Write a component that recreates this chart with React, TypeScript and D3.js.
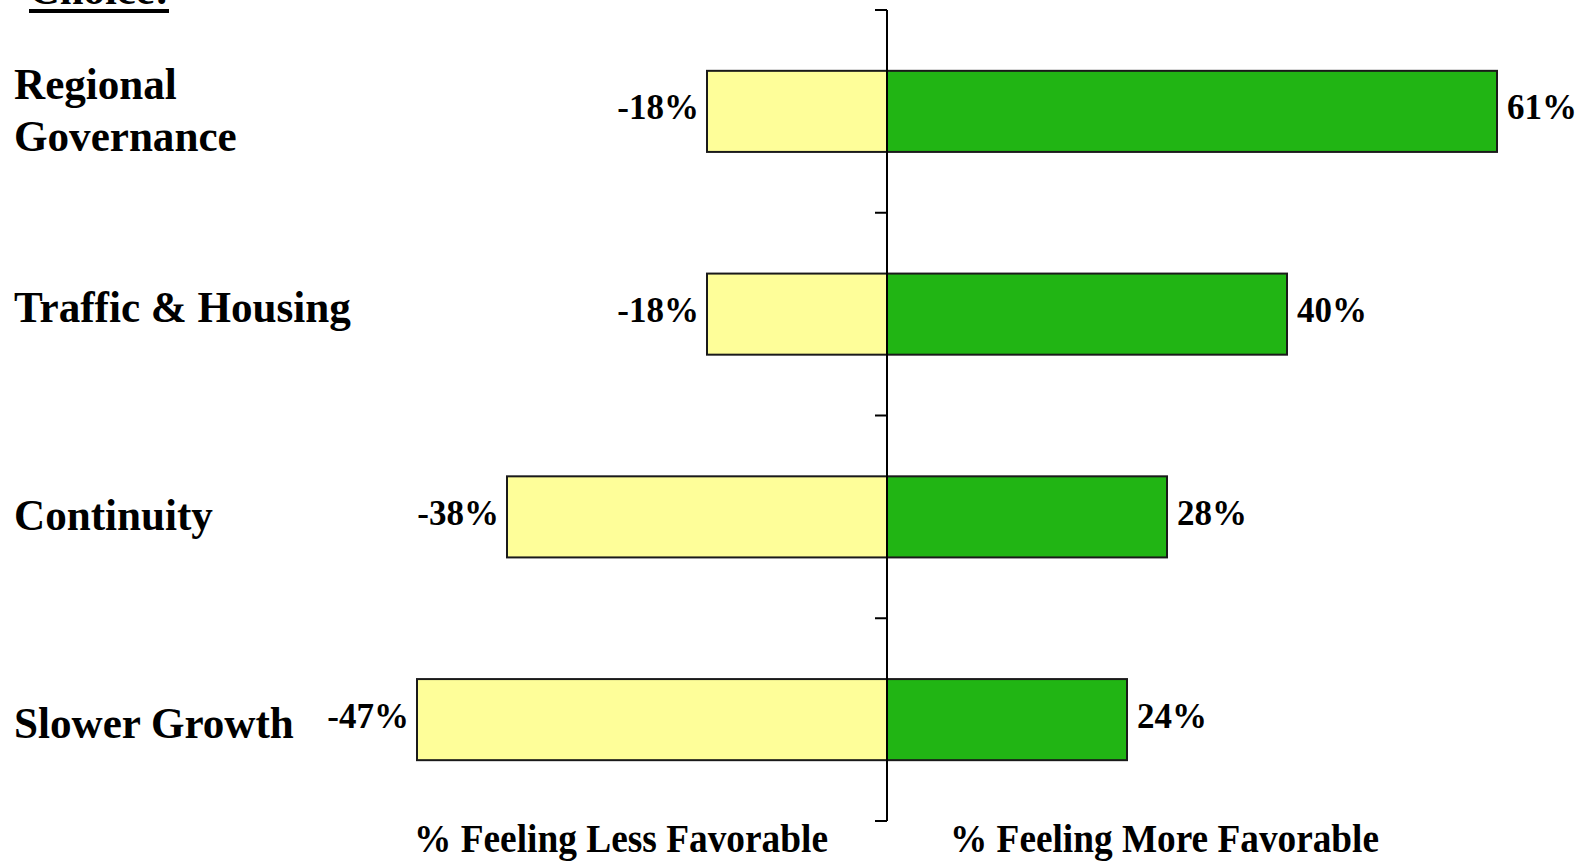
import { scaleBand, scaleLinear } from "d3";
import React from "react";

const categories = ["Regional Governance", "Traffic & Housing", "Continuity", "Slower Growth"];
const lessFavorable = [-18, -18, -38, -47];
const moreFavorable = [61, 40, 28, 24];
const leftAxisLabel = "% Feeling Less Favorable";
const rightAxisLabel = "% Feeling More Favorable";
const heading = "Choice:";

const width = 1588;
const height = 861;
const font = "'Liberation Serif', 'Times New Roman', serif";

const App: React.FC = () => {
  const x = scaleLinear().domain([-50, 70]).range([387, 1587]);
  const y = scaleBand<string>()
    .domain(categories)
    .range([10, 821])
    .paddingInner(0.6)
    .paddingOuter(0.3);

  const x0 = x(0);
  const step = y.step();
  const ticks = [...categories.map((c) => y(c)! - y.paddingOuter() * step), 821];

  return (
    <svg
      width={width}
      height={height}
      style={{ position: "absolute", left: 0, top: 0, background: "#fff" }}
      fontFamily={font}
      fontWeight="bold"
    >
      {/* heading, mostly cropped away in the original too */}
      <text x={29} y={4} fontSize={43} textLength={140} lengthAdjust="spacingAndGlyphs">
        {heading}
      </text>
      <rect x={29} y={9} width={140} height={4} fill="#000" />

      {categories.map((c, i) => {
        const top = y(c)!;
        const cy = top + y.bandwidth() / 2;
        const lines = c === "Regional Governance" ? ["Regional", "Governance"] : [c];
        // labels drift a little lower towards the bottom in the original
        const firstBase = lines.length > 1 ? cy - 12 : cy + 3 + 5 * i;
        return (
          <g key={c}>
            <rect
              x={x(lessFavorable[i])}
              y={top}
              width={x0 - x(lessFavorable[i])}
              height={y.bandwidth()}
              fill="#FEFE99"
              stroke="#1a1a1a"
              strokeWidth={2}
            />
            <rect
              x={x0}
              y={top}
              width={x(moreFavorable[i]) - x0}
              height={y.bandwidth()}
              fill="#21B514"
              stroke="#1a1a1a"
              strokeWidth={2}
            />
            <text x={x(lessFavorable[i]) - 8} y={cy + 8} fontSize={35} textAnchor="end">
              {lessFavorable[i]}%
            </text>
            <text x={x(moreFavorable[i]) + 10} y={cy + 8} fontSize={35}>
              {moreFavorable[i]}%
            </text>
            {lines.map((l, j) => (
              <text
                key={l}
                x={14}
                y={firstBase + j * 52}
                fontSize={44}
                transform="translate(14 0) scale(0.98 1) translate(-14 0)"
              >
                {l}
              </text>
            ))}
          </g>
        );
      })}

      {/* center axis with left-facing ticks */}
      <line x1={x0} x2={x0} y1={ticks[0]} y2={ticks[ticks.length - 1]} stroke="#000" strokeWidth={2} />
      {ticks.map((t) => (
        <line key={t} x1={x0 - 12} x2={x0} y1={t} y2={t} stroke="#000" strokeWidth={2} />
      ))}

      <text x={x0 - 59} y={852} fontSize={41} textAnchor="end" textLength={414} lengthAdjust="spacingAndGlyphs">
        {leftAxisLabel}
      </text>
      <text x={x0 + 63} y={852} fontSize={41} textLength={429} lengthAdjust="spacingAndGlyphs">
        {rightAxisLabel}
      </text>
    </svg>
  );
};

export default App;
